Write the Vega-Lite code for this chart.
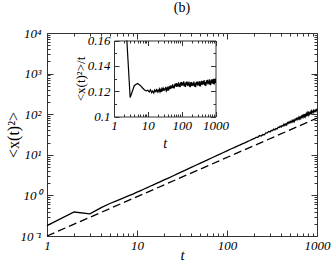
{
  "$schema": "https://vega.github.io/schema/vega-lite/v6.json",
  "width": 270,
  "height": 203,
  "autosize": "none",
  "padding": {"left": 47, "top": 33, "right": 15, "bottom": 25},
  "background": "white",
  "title": {"text": "(b)", "font": "Liberation Serif", "fontSize": 14, "fontWeight": "normal", "anchor": "middle", "baseline": "alphabetic", "offset": 1, "color": "black"},
  "config": {
    "view": {"stroke": null},
    "axis": {"domainColor": "#333", "tickColor": "#333", "labelFont": "Liberation Serif", "labelFontStyle": "italic", "labelFontSize": 13, "labelColor": "black", "titleFont": "Liberation Serif", "titleFontWeight": "normal", "titleColor": "black", "grid": false, "labelFlush": false, "labelOverlap": false, "labelBound": false, "tickWidth": 1, "domainWidth": 1}
  },
  "datasets": {
    "main": [
      {"t": 1, "msd": 0.18}, {"t": 2, "msd": 0.39}, {"t": 3, "msd": 0.35}, {"t": 4, "msd": 0.5}, {"t": 5, "msd": 0.632},
      {"t": 6, "msd": 0.747}, {"t": 7, "msd": 0.858}, {"t": 8, "msd": 0.968}, {"t": 9, "msd": 1.08}, {"t": 10, "msd": 1.2},
      {"t": 11, "msd": 1.318}, {"t": 12, "msd": 1.44}, {"t": 13, "msd": 1.556}, {"t": 14, "msd": 1.68}, {"t": 15, "msd": 1.8},
      {"t": 16, "msd": 1.915}, {"t": 18, "msd": 2.16}, {"t": 20, "msd": 2.4}, {"t": 22, "msd": 2.64}, {"t": 25, "msd": 3.01},
      {"t": 28, "msd": 3.38}, {"t": 30, "msd": 3.63}, {"t": 35, "msd": 4.25}, {"t": 40, "msd": 4.88}, {"t": 45, "msd": 5.52},
      {"t": 50, "msd": 6.15}, {"t": 60, "msd": 7.42}, {"t": 70, "msd": 8.7}, {"t": 80, "msd": 9.98}, {"t": 90, "msd": 11.25},
      {"t": 100, "msd": 12.5}, {"t": 110, "msd": 13.9}, {"t": 120, "msd": 15.0}, {"t": 130, "msd": 16.4}, {"t": 140, "msd": 17.5},
      {"t": 150, "msd": 18.9}, {"t": 160, "msd": 20.0}, {"t": 170, "msd": 21.5}, {"t": 180, "msd": 22.5}, {"t": 190, "msd": 23.9},
      {"t": 200, "msd": 24.9}, {"t": 210, "msd": 26.78}, {"t": 220, "msd": 26.97}, {"t": 230, "msd": 29.81}, {"t": 240, "msd": 28.96},
      {"t": 250, "msd": 31.54}, {"t": 260, "msd": 31.13}, {"t": 270, "msd": 34.77}, {"t": 280, "msd": 34.66}, {"t": 290, "msd": 37.5},
      {"t": 300, "msd": 36.56}, {"t": 310, "msd": 39.65}, {"t": 320, "msd": 39.34}, {"t": 330, "msd": 42.9}, {"t": 340, "msd": 41.15},
      {"t": 350, "msd": 44.3}, {"t": 360, "msd": 43.24}, {"t": 370, "msd": 47.78}, {"t": 380, "msd": 47.19}, {"t": 390, "msd": 50.59},
      {"t": 400, "msd": 48.3}, {"t": 410, "msd": 53.22}, {"t": 420, "msd": 51.38}, {"t": 430, "msd": 57.14}, {"t": 440, "msd": 52.53},
      {"t": 450, "msd": 57.47}, {"t": 460, "msd": 54.26}, {"t": 470, "msd": 61.82}, {"t": 480, "msd": 59.54}, {"t": 490, "msd": 64.86},
      {"t": 500, "msd": 60.55}, {"t": 510, "msd": 66.4}, {"t": 520, "msd": 63.79}, {"t": 530, "msd": 70.64}, {"t": 540, "msd": 64.66},
      {"t": 550, "msd": 70.45}, {"t": 560, "msd": 66.25}, {"t": 570, "msd": 75.2}, {"t": 580, "msd": 72.16}, {"t": 590, "msd": 78.33},
      {"t": 600, "msd": 72.88}, {"t": 610, "msd": 79.65}, {"t": 620, "msd": 76.29}, {"t": 630, "msd": 84.22}, {"t": 640, "msd": 76.86},
      {"t": 650, "msd": 83.5}, {"t": 660, "msd": 78.31}, {"t": 670, "msd": 88.66}, {"t": 680, "msd": 84.85}, {"t": 690, "msd": 91.88},
      {"t": 700, "msd": 84.21}, {"t": 710, "msd": 94.06}, {"t": 720, "msd": 88.13}, {"t": 730, "msd": 99.73}, {"t": 740, "msd": 87.64},
      {"t": 750, "msd": 97.2}, {"t": 760, "msd": 88.52}, {"t": 770, "msd": 103.75}, {"t": 780, "msd": 97.23}, {"t": 790, "msd": 107.31},
      {"t": 800, "msd": 96.53}, {"t": 810, "msd": 107.63}, {"t": 820, "msd": 100.67}, {"t": 830, "msd": 113.71}, {"t": 840, "msd": 99.78},
      {"t": 850, "msd": 110.49}, {"t": 860, "msd": 100.46}, {"t": 870, "msd": 117.57}, {"t": 880, "msd": 110.01}, {"t": 890, "msd": 121.25},
      {"t": 900, "msd": 108.93}, {"t": 910, "msd": 121.27}, {"t": 920, "msd": 113.28}, {"t": 930, "msd": 127.8}, {"t": 940, "msd": 111.98},
      {"t": 950, "msd": 123.84}, {"t": 960, "msd": 112.48}, {"t": 970, "msd": 131.48}, {"t": 980, "msd": 122.88}, {"t": 990, "msd": 135.28},
      {"t": 1000, "msd": 121.38}
    ],
    "dash": [
      {"t": 1, "msd": 0.1}, {"t": 1000, "msd": 80}
    ],
    "inset": [
      {"t": 2.4, "r": 0.16}, {"t": 3, "r": 0.115}, {"t": 4, "r": 0.1245}, {"t": 5, "r": 0.126}, {"t": 6, "r": 0.1245},
      {"t": 7, "r": 0.1225}, {"t": 8, "r": 0.121}, {"t": 9, "r": 0.1202},
      {"t": 10, "r": 0.1207}, {"t": 11, "r": 0.1194}, {"t": 12, "r": 0.121}, {"t": 13, "r": 0.1188}, {"t": 14, "r": 0.1202},
      {"t": 15, "r": 0.1186}, {"t": 16, "r": 0.1209}, {"t": 17, "r": 0.1197}, {"t": 18, "r": 0.1211}, {"t": 19, "r": 0.1194},
      {"t": 20, "r": 0.1209}, {"t": 21, "r": 0.1198}, {"t": 22, "r": 0.1216}, {"t": 23, "r": 0.1195}, {"t": 24, "r": 0.121},
      {"t": 25, "r": 0.1195}, {"t": 26, "r": 0.1218}, {"t": 27, "r": 0.1207}, {"t": 28, "r": 0.1221}, {"t": 29, "r": 0.1204},
      {"t": 30, "r": 0.1219}, {"t": 32, "r": 0.1207}, {"t": 34, "r": 0.1234}, {"t": 36, "r": 0.1204}, {"t": 38, "r": 0.1225},
      {"t": 40, "r": 0.1204}, {"t": 42, "r": 0.1238}, {"t": 44, "r": 0.1222}, {"t": 46, "r": 0.1244}, {"t": 48, "r": 0.1219},
      {"t": 50, "r": 0.1243}, {"t": 52, "r": 0.1227}, {"t": 54, "r": 0.1253}, {"t": 56, "r": 0.1223}, {"t": 58, "r": 0.1243},
      {"t": 60, "r": 0.1222}, {"t": 63, "r": 0.1258}, {"t": 66, "r": 0.1239}, {"t": 69, "r": 0.1263}, {"t": 72, "r": 0.1234},
      {"t": 75, "r": 0.1259}, {"t": 78, "r": 0.124}, {"t": 81, "r": 0.1269}, {"t": 84, "r": 0.1234}, {"t": 87, "r": 0.1257},
      {"t": 90, "r": 0.1232}, {"t": 93, "r": 0.1269}, {"t": 96, "r": 0.125}, {"t": 99, "r": 0.1273},
      {"t": 100, "r": 0.1242}, {"t": 105, "r": 0.1268}, {"t": 110, "r": 0.1246}, {"t": 115, "r": 0.1277}, {"t": 120, "r": 0.1237},
      {"t": 125, "r": 0.1262}, {"t": 130, "r": 0.1233}, {"t": 135, "r": 0.1273}, {"t": 140, "r": 0.1251}, {"t": 145, "r": 0.1275},
      {"t": 150, "r": 0.1242}, {"t": 155, "r": 0.1267}, {"t": 160, "r": 0.1245}, {"t": 165, "r": 0.1276}, {"t": 170, "r": 0.1235},
      {"t": 175, "r": 0.126}, {"t": 180, "r": 0.1231}, {"t": 185, "r": 0.127}, {"t": 190, "r": 0.1248}, {"t": 195, "r": 0.1272},
      {"t": 200, "r": 0.1239}, {"t": 210, "r": 0.1265}, {"t": 220, "r": 0.1243}, {"t": 230, "r": 0.1275}, {"t": 240, "r": 0.1235},
      {"t": 250, "r": 0.1261}, {"t": 260, "r": 0.1232}, {"t": 270, "r": 0.1273}, {"t": 280, "r": 0.1251}, {"t": 290, "r": 0.1276},
      {"t": 300, "r": 0.1243}, {"t": 310, "r": 0.127}, {"t": 320, "r": 0.1248}, {"t": 330, "r": 0.128}, {"t": 340, "r": 0.124},
      {"t": 350, "r": 0.1266}, {"t": 360, "r": 0.1237}, {"t": 370, "r": 0.1278}, {"t": 380, "r": 0.1256}, {"t": 390, "r": 0.1281},
      {"t": 400, "r": 0.1249}, {"t": 420, "r": 0.1277}, {"t": 440, "r": 0.1254}, {"t": 460, "r": 0.1288}, {"t": 480, "r": 0.1246},
      {"t": 500, "r": 0.1272}, {"t": 520, "r": 0.1242}, {"t": 540, "r": 0.1285}, {"t": 560, "r": 0.1262}, {"t": 580, "r": 0.1289},
      {"t": 600, "r": 0.1254}, {"t": 620, "r": 0.1282}, {"t": 640, "r": 0.1259}, {"t": 660, "r": 0.1293}, {"t": 680, "r": 0.1251},
      {"t": 700, "r": 0.1277}, {"t": 720, "r": 0.1247}, {"t": 740, "r": 0.129}, {"t": 760, "r": 0.1267}, {"t": 780, "r": 0.1294},
      {"t": 800, "r": 0.1259}, {"t": 820, "r": 0.1287}, {"t": 840, "r": 0.1264}, {"t": 860, "r": 0.1298}, {"t": 880, "r": 0.1256},
      {"t": 900, "r": 0.1282}, {"t": 920, "r": 0.1252}, {"t": 940, "r": 0.1295}, {"t": 960, "r": 0.1272}, {"t": 980, "r": 0.1299},
      {"t": 1000, "r": 0.1264}
    ]
  },
  "layer": [
    {
      "layer": [
        {
          "data": {"name": "main"},
          "mark": {"type": "line", "color": "black", "strokeWidth": 1.3},
          "encoding": {
            "x": {"field": "t", "type": "quantitative", "scale": {"type": "log", "domain": [1, 1000], "nice": false},
              "axis": {"orient": "bottom", "values": [1,2,3,4,5,6,7,8,9,10,20,30,40,50,60,70,80,90,100,200,300,400,500,600,700,800,900,1000],
                "labelExpr": "datum.value == 1 ? '1' : datum.value == 10 ? '10' : datum.value == 100 ? '100' : datum.value == 1000 ? '1000' : ''",
                "tickSize": {"condition": {"test": "indexof([1,10,100,1000], datum.value) >= 0", "value": -6}, "value": -3},
                "labelPadding": 9, "title": "t", "titleFontStyle": "italic", "titleFontSize": 15, "titleY": 23, "titleBaseline": "alphabetic"}},
            "y": {"field": "msd", "type": "quantitative", "scale": {"type": "log", "domain": [0.1, 10000], "nice": false},
              "axis": {"orient": "left", "values": [0.1,0.2,0.3,0.4,0.5,0.6,0.7,0.8,0.9,1,2,3,4,5,6,7,8,9,10,20,30,40,50,60,70,80,90,100,200,300,400,500,600,700,800,900,1000,2000,3000,4000,5000,6000,7000,8000,9000,10000],
                "labelExpr": "datum.value == 0.1 ? '10⁻¹' : datum.value == 1 ? '10⁰' : datum.value == 10 ? '10¹' : datum.value == 100 ? '10²' : datum.value == 1000 ? '10³' : datum.value == 10000 ? '10⁴' : ''",
                "tickSize": {"condition": {"test": "indexof([0.1,1,10,100,1000,10000], datum.value) >= 0", "value": -6}, "value": -3},
                "labelPadding": 12, "title": "<x(t)²>", "titleFontSize": 16, "titleX": -34, "titleBaseline": "middle"}}
          }
        },
        {
          "data": {"name": "dash"},
          "mark": {"type": "line", "color": "black", "strokeWidth": 1.3, "strokeDash": [8, 4]},
          "encoding": {
            "x": {"field": "t", "type": "quantitative", "scale": {"type": "log", "domain": [1, 1000], "nice": false}},
            "y": {"field": "msd", "type": "quantitative", "scale": {"type": "log", "domain": [0.1, 10000], "nice": false}}
          }
        }
      ]
    },
    {
      "data": {"name": "main"},
      "mark": {"type": "line", "opacity": 0},
      "encoding": {
        "x": {"field": "t", "type": "quantitative", "scale": {"type": "log", "domain": [1, 1000], "nice": false},
          "axis": {"orient": "top", "values": [1,2,3,4,5,6,7,8,9,10,20,30,40,50,60,70,80,90,100,200,300,400,500,600,700,800,900,1000], "labels": false, "title": null,
            "tickSize": {"condition": {"test": "indexof([1,10,100,1000], datum.value) >= 0", "value": -6}, "value": -3}}},
        "y": {"field": "msd", "type": "quantitative", "scale": {"type": "log", "domain": [0.1, 10000], "nice": false},
          "axis": {"orient": "right", "values": [0.1,0.2,0.3,0.4,0.5,0.6,0.7,0.8,0.9,1,2,3,4,5,6,7,8,9,10,20,30,40,50,60,70,80,90,100,200,300,400,500,600,700,800,900,1000,2000,3000,4000,5000,6000,7000,8000,9000,10000], "labels": false, "title": null,
            "tickSize": {"condition": {"test": "indexof([0.1,1,10,100,1000,10000], datum.value) >= 0", "value": -6}, "value": -3}}}
      }
    },
    {
      "data": {"name": "inset"},
      "mark": {"type": "line", "color": "black", "strokeWidth": 1.2},
      "encoding": {
        "x": {"field": "t", "type": "quantitative", "scale": {"type": "log", "domain": [1, 1000], "nice": false, "range": [67, 168.5]},
          "axis": {"orient": "bottom", "offset": -119.5, "values": [1,2,3,4,5,6,7,8,9,10,20,30,40,50,60,70,80,90,100,200,300,400,500,600,700,800,900,1000],
            "labelExpr": "datum.value == 1 ? '1' : datum.value == 10 ? '10' : datum.value == 100 ? '100' : datum.value == 1000 ? '1000' : ''",
            "tickSize": {"condition": {"test": "indexof([1,10,100,1000], datum.value) >= 0", "value": -5}, "value": -2.5},
            "labelPadding": 7.5, "title": "t", "titleFontStyle": "italic", "titleFontSize": 14, "titleY": 30.5, "titleBaseline": "alphabetic"}},
        "y": {"field": "r", "type": "quantitative", "scale": {"domain": [0.1, 0.16], "nice": false, "zero": false, "range": [83.5, 7.5]},
          "axis": {"orient": "left", "offset": -67, "values": [0.1,0.11,0.12,0.13,0.14,0.15,0.16],
            "labelExpr": "datum.value == 0.1 ? '0.1' : datum.value == 0.12 ? '0.12' : datum.value == 0.14 ? '0.14' : datum.value == 0.16 ? '0.16' : ''",
            "tickSize": {"condition": {"test": "indexof([0.1,0.12,0.14,0.16], datum.value) >= 0", "value": -5}, "value": -2.5},
            "labelPadding": 9, "title": "<x(t)²>/t", "titleFontSize": 13, "titleX": -34, "titleBaseline": "middle"}}
      }
    },
    {
      "data": {"name": "inset"},
      "mark": {"type": "line", "opacity": 0},
      "encoding": {
        "x": {"field": "t", "type": "quantitative", "scale": {"type": "log", "domain": [1, 1000], "nice": false, "range": [67, 168.5]},
          "axis": {"orient": "top", "offset": -7.5, "values": [1,2,3,4,5,6,7,8,9,10,20,30,40,50,60,70,80,90,100,200,300,400,500,600,700,800,900,1000], "labels": false, "title": null,
            "tickSize": {"condition": {"test": "indexof([1,10,100,1000], datum.value) >= 0", "value": -5}, "value": -2.5}}},
        "y": {"field": "r", "type": "quantitative", "scale": {"domain": [0.1, 0.16], "nice": false, "zero": false, "range": [83.5, 7.5]},
          "axis": {"orient": "right", "offset": -101.5, "values": [0.1,0.11,0.12,0.13,0.14,0.15,0.16], "labels": false, "title": null,
            "tickSize": {"condition": {"test": "indexof([0.1,0.12,0.14,0.16], datum.value) >= 0", "value": -5}, "value": -2.5}}}
      }
    }
  ],
  "resolve": {"scale": {"x": "independent", "y": "independent"}, "axis": {"x": "independent", "y": "independent"}}
}
